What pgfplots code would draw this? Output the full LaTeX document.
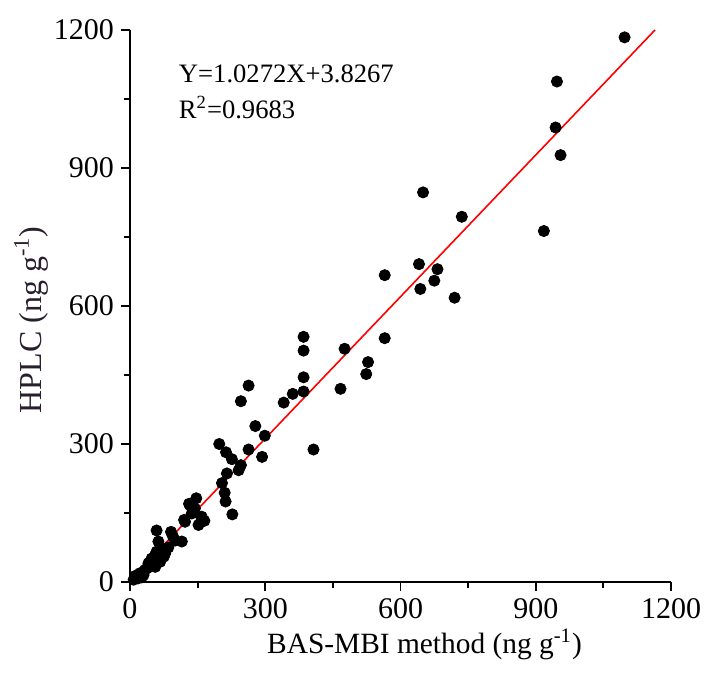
\documentclass[border=0pt]{standalone}
\usepackage{pgfplots}
\pgfplotsset{compat=1.18}
\usepackage{fontspec}
\setmainfont{Liberation Serif}
\begin{document}
\begin{tikzpicture}
\begin{axis}[
  name=main,
  scale only axis,
  width=270.5pt, height=276pt,
  xmin=0, xmax=1200, ymin=0, ymax=1200,
  axis x line*=bottom, axis y line*=left,
  axis line style={line width=1pt},
  xtick={0,300,600,900,1200}, ytick={0,300,600,900,1200},
  minor xtick={150,450,750,1050}, minor ytick={150,450,750,1050},
  tick align=outside,
  major tick length=4.5pt, minor tick length=3pt,
  tick style={line width=0.9pt, black},
  /pgf/number format/assume math mode=true,
  /pgf/number format/1000 sep={},
  tick label style={font=\fontsize{15}{17}\selectfont},
  xlabel={BAS-MBI method (ng g\textsuperscript{-1})},
  ylabel={HPLC (ng g\textsuperscript{-1})},
  xlabel style={font=\fontsize{14.7}{16}\selectfont, yshift=1.5pt, xshift=12pt},
  ylabel style={font=\fontsize{16}{18}\selectfont, yshift=-4pt, xshift=-7pt, text={rgb,255:red,40;green,30;blue,45}},
  clip=false,
]
\addplot[red, line width=0.8pt] coordinates {(0,3.8267) (1164.5,1200)};
\addplot[only marks, mark=*, mark size=2.8pt, black] coordinates {
(11,13) (22,19) (26,10) (33,26) (18,8) (8,5) (30,15) (41,41) (48,51) (56,33) (56,59) (59,66) (67,44)
(63,88) (70,73) (78,62) (59,112) (91,109) (115,88) (122,131) (131,170) (147,182) (159,142) (165,133)
(133,167) (144,160) (137,149) (159,137) (120,135) (152,124) (85,75) (75,55) (45,35) (38,30) (95,100) (100,90)
(198,300) (213,282) (226,267) (246,254) (241,243) (215,236) (204,215) (210,194) (212,175) (227,147)
(263,288) (293,272) (278,339) (299,318) (263,427) (246,393)
(341,390) (361,409) (385,414) (385,445) (385,503) (385,533) (407,288) (467,420) (476,507)
(524,452) (528,478) (565,530) (565,667)
(641,691) (682,680) (675,655) (644,637) (720,618) (650,847) (736,794)
(918,763) (955,928) (944,988) (947,1088) (1097,1184)
};
\node[anchor=west, font=\fontsize{13.3}{15}\selectfont] at (axis cs:93,1105) {Y=1.0272X+3.8267};
\node[anchor=west, font=\fontsize{13.3}{15}\selectfont] at (axis cs:93,1032) {R\textsuperscript{2}=0.9683};
\end{axis}
\pgfresetboundingbox
\path[use as bounding box] ([shift={(-65pt,-48.5pt)}]main.south west) rectangle ([shift={(20pt,15pt)}]main.north east);
\end{tikzpicture}
\end{document}
